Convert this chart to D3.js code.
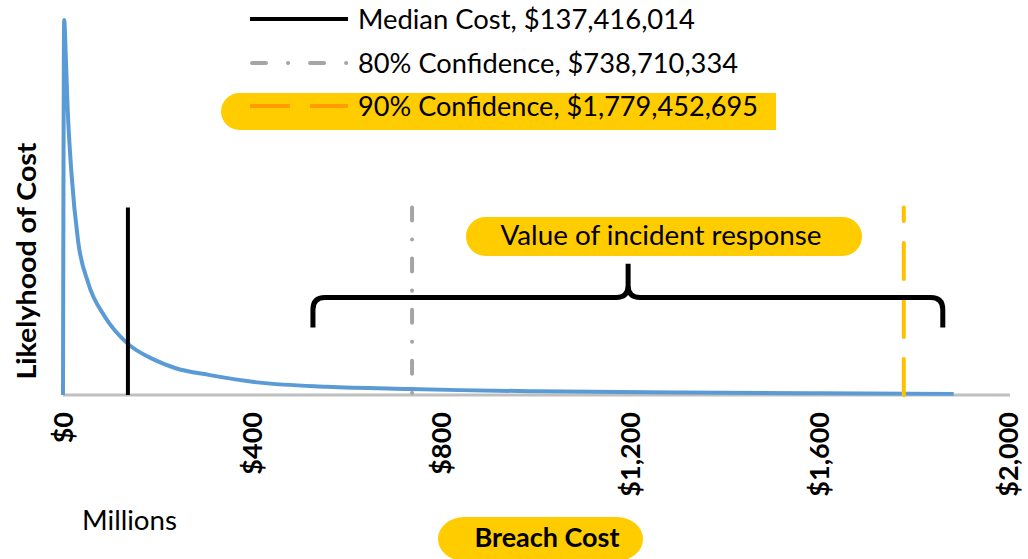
<!DOCTYPE html>
<html>
<head>
<meta charset="utf-8">
<script src="https://cdn.jsdelivr.net/npm/d3@7"></script>
<style>
  html, body { margin: 0; padding: 0; background: #ffffff; }
  svg { display: block; font-family: Lato, "Open Sans", sans-serif; }
</style>
</head>
<body>
<svg id="chart" width="1028" height="559"></svg>
<script>
// ---------------- DATA ----------------
// Breach cost in millions of dollars (x) vs. likelihood (relative, y)
const costMillions = [0, 2.5, 6, 10, 18, 32, 53, 89, 135, 195, 237, 311, 417, 559, 734, 840, 1000, 1312, 1600, 1885];
const likelihood   = [0, 100, 90, 76, 59, 41, 30, 20.8, 13.9, 9.3, 7.2, 5.3, 3.3, 2.2, 1.6, 1.3, 1.0, 0.65, 0.45, 0.3];

const xTicks = [0, 400, 800, 1200, 1600, 2000];

const markerNames  = ["Median Cost", "80% Confidence", "90% Confidence"];
const markerValues = [137416014, 738710334, 1779452695];   // dollars
const markerHeight = 50;                                   // likelihood units

const braceSpan   = [529, 1862];     // millions
const braceCenter = 1196;            // millions
const braceLevels = [18, 26, 35];    // end, bar, tip (likelihood units)

const annotationText = "Value of incident response";
const xAxisTitle = "Breach Cost";
const xAxisUnit = "Millions";
const yAxisTitle = "Likelyhood of Cost";

// ---------------- CHART ----------------
const svg = d3.select("#chart");
const x = d3.scaleLinear().domain([0, 2000]).range([63, 1008]);
const y = d3.scaleLinear().domain([0, 100]).range([395, 20]);

const fmtDollar = d3.format("$,");

// X axis
const xAxis = d3.axisBottom(x)
  .tickValues(xTicks)
  .tickSize(0)
  .tickPadding(0)
  .tickFormat(d => fmtDollar(d));

const gx = svg.append("g")
  .attr("transform", `translate(0,${y(0)})`)
  .call(xAxis);
gx.select(".domain").remove();
gx.append("line")
  .attr("x1", x(0)).attr("x2", x(2000) + 2)
  .attr("y1", 0).attr("y2", 0)
  .attr("stroke", "#bfbfbf").attr("stroke-width", 3);
gx.selectAll(".tick text")
  .attr("transform", "translate(0,17) rotate(-90)")
  .attr("x", 0).attr("y", 0)
  .attr("dy", "0.36em")
  .attr("text-anchor", "end")
  .attr("fill", "#000")
  .style("font-family", "Lato, sans-serif")
  .style("font-weight", "bold")
  .style("font-size", "27px");

// Curve
const pts = costMillions.map((c, i) => [c, likelihood[i]]);
svg.append("path")
  .datum(pts)
  .attr("fill", "none")
  .attr("stroke", "#5b9bd5")
  .attr("stroke-width", 4)
  .attr("stroke-linejoin", "round")
  .attr("d", d3.line().x(d => x(d[0])).y(d => y(d[1])).curve(d3.curveMonotoneX));

// Marker lines
const markerStyles = [
  { stroke: "#000000", dash: null, cap: "butt", fromTop: true, legendStroke: "#000000", legendDash: null },
  { stroke: "#a5a5a5", dash: "13,19,0.1,19", cap: "round", fromTop: true, legendStroke: "#a5a5a5", legendDash: "14,22,0.1,22" },
  { stroke: "#ffc000", dash: "36,22", cap: "round", fromTop: false, legendStroke: "#ff9c00", legendDash: "40,20" }
];

markerValues.forEach((v, i) => {
  const st = markerStyles[i];
  const xm = x(v / 1e6);
  const y0 = st.fromTop ? y(markerHeight) : y(0);
  const y1 = st.fromTop ? y(0) : y(markerHeight);
  svg.append("line")
    .attr("x1", xm).attr("x2", xm)
    .attr("y1", y0).attr("y2", y1)
    .attr("stroke", st.stroke)
    .attr("stroke-width", 4)
    .attr("stroke-linecap", st.cap)
    .attr("stroke-dasharray", st.dash);
});

// Brace
(function () {
  const xl = x(braceSpan[0]), xr = x(braceSpan[1]), xc = x(braceCenter);
  const yEnd = y(braceLevels[0]), yBar = y(braceLevels[1]), yTip = y(braceLevels[2]);
  const r = 12;
  const p = d3.path();
  p.moveTo(xl, yEnd);
  p.lineTo(xl, yBar + r);
  p.quadraticCurveTo(xl, yBar, xl + r, yBar);
  p.lineTo(xc - r, yBar);
  p.quadraticCurveTo(xc, yBar, xc, yBar - r);
  p.lineTo(xc, yTip);
  p.moveTo(xc, yBar - r);
  p.quadraticCurveTo(xc, yBar, xc + r, yBar);
  p.lineTo(xr - r, yBar);
  p.quadraticCurveTo(xr, yBar, xr, yBar + r);
  p.lineTo(xr, yEnd);
  svg.append("path")
    .attr("d", p.toString())
    .attr("fill", "none")
    .attr("stroke", "#000")
    .attr("stroke-width", 5)
    .attr("stroke-linejoin", "round");
})();

// Annotation pill
svg.append("rect")
  .attr("x", 466).attr("y", 217).attr("width", 396).attr("height", 39)
  .attr("rx", 19.5).attr("ry", 19.5)
  .attr("fill", "#ffcc00");
svg.append("text")
  .attr("x", 661).attr("y", 245)
  .attr("text-anchor", "middle")
  .attr("textLength", 321).attr("lengthAdjust", "spacingAndGlyphs")
  .style("font-size", "27px")
  .attr("fill", "#000")
  .text(annotationText);

// Legend
const legendRowY = [19, 63, 106];
svg.append("path")
  .attr("d", "M776,93 H239.5 A18.5,18.5 0 0 0 239.5,130 H776 Z")
  .attr("fill", "#ffcc00");
const legendWidths = [337, 380, 400];
markerValues.forEach((v, i) => {
  const st = markerStyles[i];
  const ly = legendRowY[i];
  svg.append("line")
    .attr("x1", i === 1 ? 252 : 250).attr("x2", 348)
    .attr("y1", ly).attr("y2", ly)
    .attr("stroke", st.legendStroke)
    .attr("stroke-width", 4)
    .attr("stroke-linecap", i === 1 ? "round" : "butt")
    .attr("stroke-dasharray", st.legendDash);
  svg.append("text")
    .attr("x", 358).attr("y", ly + 10)
    .attr("textLength", legendWidths[i]).attr("lengthAdjust", "spacingAndGlyphs")
    .style("font-size", "27px")
    .attr("fill", "#000")
    .text(`${markerNames[i]}, ${fmtDollar(v)}`);
});

// Axis titles
svg.append("text")
  .attr("x", 82).attr("y", 530)
  .attr("textLength", 95).attr("lengthAdjust", "spacingAndGlyphs")
  .style("font-size", "27px")
  .attr("fill", "#000")
  .text(xAxisUnit);

svg.append("rect")
  .attr("x", 438).attr("y", 517).attr("width", 205).attr("height", 44)
  .attr("rx", 26).attr("ry", 22)
  .attr("fill", "#ffcc00");
svg.append("text")
  .attr("x", 547).attr("y", 547)
  .attr("text-anchor", "middle")
  .attr("textLength", 145).attr("lengthAdjust", "spacingAndGlyphs")
  .style("font-size", "27px").style("font-weight", "bold")
  .attr("fill", "#000")
  .text(xAxisTitle);

svg.append("text")
  .attr("transform", "translate(36,261) rotate(-90)")
  .attr("text-anchor", "middle")
  .attr("textLength", 237).attr("lengthAdjust", "spacingAndGlyphs")
  .style("font-size", "27px").style("font-weight", "bold")
  .attr("fill", "#000")
  .text(yAxisTitle);
</script>
</body>
</html>
